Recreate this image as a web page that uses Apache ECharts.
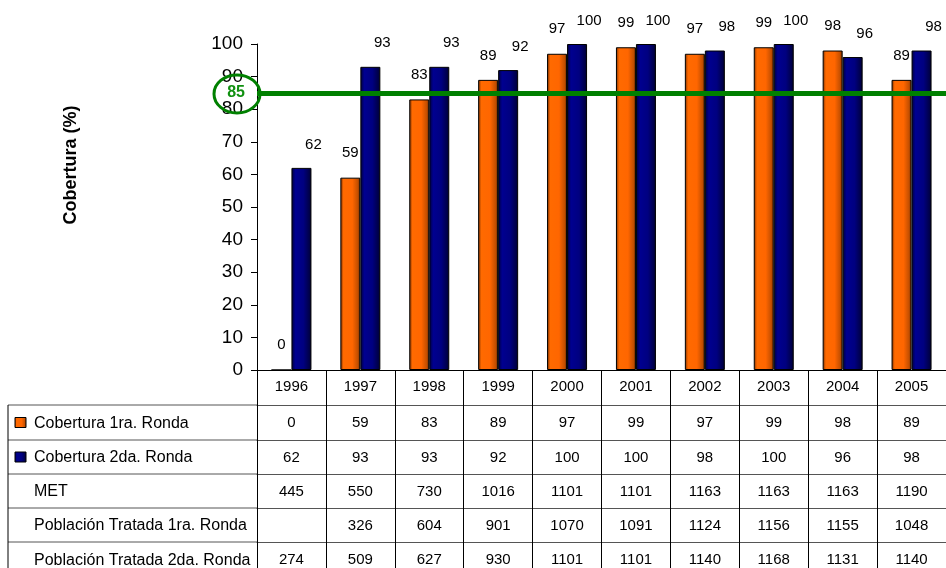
<!DOCTYPE html>
<html>
<head>
<meta charset="utf-8">
<script src="https://cdn.jsdelivr.net/npm/echarts@6/dist/echarts.min.js"></script>
<style>
  html, body { margin: 0; padding: 0; background: #fff; }
  #chart { width: 946px; height: 568px; }
</style>
</head>
<body>
<div id="chart"></div>
<script>
const years = ['1996', '1997', '1998', '1999', '2000', '2001', '2002', '2003', '2004', '2005'];
const cobertura1 = [0, 59, 83, 89, 97, 99, 97, 99, 98, 89];
const cobertura2 = [62, 93, 93, 92, 100, 100, 98, 100, 96, 98];
const met = [445, 550, 730, 1016, 1101, 1101, 1163, 1163, 1163, 1190];
const tratada1 = [null, 326, 604, 901, 1070, 1091, 1124, 1156, 1155, 1048];
const tratada2 = [274, 509, 627, 930, 1101, 1101, 1140, 1168, 1131, 1140];
const meta = 85;
const yTicks = { min: 0, max: 100, interval: 10 };

const rowLabels = ['Cobertura 1ra. Ronda', 'Cobertura 2da. Ronda', 'MET', 'Población Tratada 1ra. Ronda', 'Población Tratada 2da. Ronda'];
const rows = [cobertura1, cobertura2, met, tratada1, tratada2];

// layout
const gridLeft = 257, gridTop = 44, gridW = 695, gridH = 326;
const axisY = gridTop + gridH;
const rowOffsets = [35, 70, 104, 138, 172];
const font = 'Liberation Sans, Arial, sans-serif';

const orangeFill = new echarts.graphic.LinearGradient(0, 0, 1, 0, [
  { offset: 0, color: '#7a2e00' },
  { offset: 0.16, color: '#ff6a00' },
  { offset: 0.6, color: '#ff6600' },
  { offset: 0.88, color: '#c24e00' },
  { offset: 1, color: '#5e2400' },
]);
const blueFill = new echarts.graphic.LinearGradient(0, 0, 1, 0, [
  { offset: 0, color: '#00003a' },
  { offset: 0.2, color: '#000090' },
  { offset: 0.6, color: '#000080' },
  { offset: 0.9, color: '#000048' },
  { offset: 1, color: '#000020' },
]);

const rowAxes = rows.map((row, k) => ({
  type: 'category',
  gridIndex: 0,
  position: 'bottom',
  offset: rowOffsets[k],
  data: years,
  axisLine: { show: true, lineStyle: { color: '#555', width: 1 } },
  axisTick: { show: true, inside: false, length: (rowOffsets[k + 1] ?? rowOffsets[k] + 36) - rowOffsets[k], lineStyle: { color: '#000', width: 1 } },
  axisLabel: {
    show: true, interval: 0, margin: 10, fontSize: 15, color: '#000', fontFamily: font,
    formatter: (v, i) => (row[i] == null ? '' : String(row[i])),
  },
  splitLine: { show: false },
}));

const graphics = [];
// label column lines
rowOffsets.forEach((off, k) => {
  const y = axisY + off;
  graphics.push({ type: 'line', shape: { x1: 8, y1: y, x2: gridLeft, y2: y }, style: { stroke: '#555', lineWidth: 1 } });
  const nextOff = rowOffsets[k + 1] ?? off + 36;
  const cy = axisY + (off + nextOff) / 2;
  if (k < 2) {
    graphics.push({
      type: 'rect', shape: { x: 15, y: cy - 5, width: 11, height: 10 },
      style: { fill: k === 0 ? orangeFill : blueFill, stroke: '#000', lineWidth: 1 },
    });
  }
  graphics.push({
    type: 'text', x: 34, y: cy + 1,
    style: { text: rowLabels[k], font: '16px ' + font, fill: '#000', textVerticalAlign: 'middle' },
  });
});
graphics.push({ type: 'line', shape: { x1: 8, y1: axisY + rowOffsets[0], x2: 8, y2: 568 }, style: { stroke: '#000', lineWidth: 1 } });
// axis title
graphics.push({
  type: 'text', x: 71, y: 165, rotation: Math.PI / 2,
  style: { text: 'Cobertura (%)', font: 'bold 18px ' + font, fill: '#000', textAlign: 'center', textVerticalAlign: 'middle' },
});
// ring around the target value
graphics.push({
  type: 'ellipse', z: 20,
  shape: { cx: 237, cy: gridTop + gridH * (1 - meta / yTicks.max) + 1, rx: 23, ry: 19 },
  style: { fill: 'none', stroke: '#008000', lineWidth: 3 },
});

const chart = echarts.init(document.getElementById('chart'));
chart.setOption({
  animation: false,
  backgroundColor: '#fff',
  textStyle: { fontFamily: font },
  grid: { left: gridLeft, top: gridTop, width: gridW, height: gridH, containLabel: false },
  xAxis: [
    {
      type: 'category',
      data: years,
      axisLine: { show: true, lineStyle: { color: '#000', width: 1 } },
      axisTick: { show: true, inside: false, length: rowOffsets[0], lineStyle: { color: '#000', width: 1 } },
      axisLabel: { interval: 0, margin: 9, fontSize: 15, color: '#000' },
      splitLine: { show: false },
    },
    ...rowAxes,
  ],
  yAxis: {
    type: 'value',
    min: yTicks.min,
    max: yTicks.max,
    interval: yTicks.interval,
    axisLine: { show: true, lineStyle: { color: '#000', width: 1 } },
    axisTick: { show: true, length: 6, lineStyle: { color: '#000' } },
    axisLabel: { fontSize: 19, color: '#000', margin: 14 },
    splitLine: { show: false },
  },
  series: [
    {
      name: 'Cobertura 1ra. Ronda',
      type: 'bar',
      data: cobertura1,
      barWidth: 20,
      barGap: '0%',
      itemStyle: { color: orangeFill, borderColor: '#000', borderWidth: 1 },
      label: { show: true, position: 'top', distance: 17, fontSize: 15, color: '#000' },
    },
    {
      name: 'Cobertura 2da. Ronda',
      type: 'bar',
      data: cobertura2,
      barWidth: 20,
      barGap: '0%',
      itemStyle: { color: blueFill, borderColor: '#000', borderWidth: 1 },
      label: { show: true, position: 'top', distance: 16, offset: [12, 0], fontSize: 15, color: '#000' },
      markLine: {
        silent: true,
        symbol: ['none', 'none'],
        z: 10,
        lineStyle: { color: '#008000', width: 5, type: 'solid' },
        label: {
          show: true, position: 'start', distance: 12, formatter: String(meta),
          color: '#109010', fontWeight: 'bold', fontSize: 16,
        },
        emphasis: { disabled: true },
        data: [{ yAxis: meta }],
      },
    },
  ],
  graphic: graphics,
});
</script>
</body>
</html>
